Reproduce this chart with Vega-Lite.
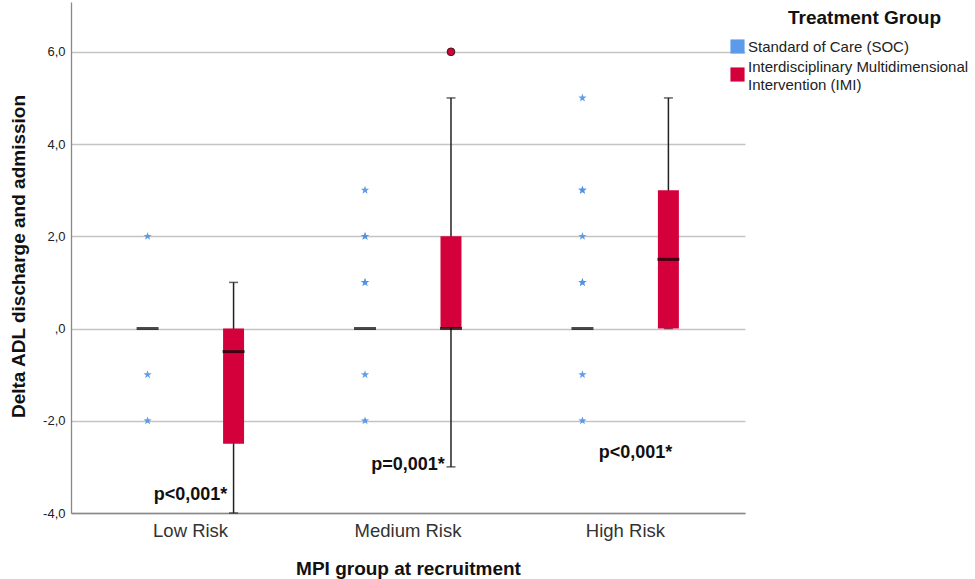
{
  "$schema": "https://vega.github.io/schema/vega-lite/v6.json",
  "width": 674,
  "height": 511,
  "autosize": {"type": "none"},
  "padding": {"left": 71, "top": 2, "right": 230, "bottom": 66},
  "background": "white",
  "config": {"view": {"stroke": null}, "font": "Liberation Sans"},
  "datasets": {
    "boxes": [
      {"group": "Low Risk", "treatment": "SOC", "lo": 0, "q1": 0, "med": 0, "q3": 0, "hi": 0},
      {"group": "Low Risk", "treatment": "IMI", "lo": -4, "q1": -2.5, "med": -0.5, "q3": 0, "hi": 1},
      {"group": "Medium Risk", "treatment": "SOC", "lo": 0, "q1": 0, "med": 0, "q3": 0, "hi": 0},
      {"group": "Medium Risk", "treatment": "IMI", "lo": -3, "q1": 0, "med": 0, "q3": 2, "hi": 5},
      {"group": "High Risk", "treatment": "SOC", "lo": 0, "q1": 0, "med": 0, "q3": 0, "hi": 0},
      {"group": "High Risk", "treatment": "IMI", "lo": 0, "q1": 0, "med": 1.5, "q3": 3, "hi": 5}
    ],
    "extremes": [
      {"group": "Low Risk", "treatment": "SOC", "value": 2},
      {"group": "Low Risk", "treatment": "SOC", "value": -1},
      {"group": "Low Risk", "treatment": "SOC", "value": -2},
      {"group": "Medium Risk", "treatment": "SOC", "value": 3},
      {"group": "Medium Risk", "treatment": "SOC", "value": 2},
      {"group": "Medium Risk", "treatment": "SOC", "value": 2},
      {"group": "Medium Risk", "treatment": "SOC", "value": 1},
      {"group": "Medium Risk", "treatment": "SOC", "value": 1},
      {"group": "Medium Risk", "treatment": "SOC", "value": -1},
      {"group": "Medium Risk", "treatment": "SOC", "value": -2},
      {"group": "High Risk", "treatment": "SOC", "value": 5},
      {"group": "High Risk", "treatment": "SOC", "value": 3},
      {"group": "High Risk", "treatment": "SOC", "value": 3},
      {"group": "High Risk", "treatment": "SOC", "value": 2},
      {"group": "High Risk", "treatment": "SOC", "value": 1},
      {"group": "High Risk", "treatment": "SOC", "value": 1},
      {"group": "High Risk", "treatment": "SOC", "value": -1},
      {"group": "High Risk", "treatment": "SOC", "value": -2}
    ],
    "outliers": [
      {"group": "Medium Risk", "treatment": "IMI", "value": 6}
    ],
    "pvals": [
      {"group": "Low Risk", "label": "p<0,001*", "y": -3.62},
      {"group": "Medium Risk", "label": "p=0,001*", "y": -2.97}
    ],
    "pvals2": [
      {"group": "High Risk", "label": "p<0,001*", "y": -2.69}
    ]
  },
  "encoding": {
    "x": {
      "field": "group",
      "type": "nominal",
      "sort": ["Low Risk", "Medium Risk", "High Risk"],
      "scale": {"domain": ["Low Risk", "Medium Risk", "High Risk"], "paddingInner": 0, "paddingOuter": 0.05},
      "axis": {
        "title": "MPI group at recruitment",
        "titleFontSize": 19,
        "titleFontWeight": "bold",
        "titleColor": "#111",
        "titleY": 55,
        "titleBaseline": "middle",
        "labelFontSize": 18.5,
        "labelColor": "#333",
        "labelAngle": 0,
        "ticks": false,
        "labelPadding": 8,
        "domainColor": "#888",
        "domainWidth": 1.3,
        "grid": false
      }
    }
  },
  "layer": [
    {
      "data": {"name": "boxes"},
      "mark": {"type": "rule", "color": "#222", "strokeWidth": 1.5},
      "encoding": {
        "xOffset": {"field": "treatment", "type": "nominal", "scale": {"domain": ["SOC", "IMI"], "paddingInner": 0.756, "paddingOuter": 0.6425}},
        "y": {
          "field": "lo",
          "type": "quantitative",
          "title": "Delta ADL discharge and admission",
          "scale": {"domain": [-4, 7.08], "nice": false, "zero": false},
          "axis": {
            "values": [-4, -2, 0, 2, 4, 6],
            "labelExpr": "datum.value == 0 ? ',0' : replace(replace(format(datum.value, '.1f'), '.', ','), '\u2212', '-')",
            "grid": true,
            "gridColor": "#c4c4c4",
            "gridWidth": 1.3,
            "ticks": false,
            "domainColor": "#888",
            "domainWidth": 1.3,
            "labelFontSize": 13,
            "labelColor": "#222",
            "labelPadding": 6,
            "titleFontSize": 19,
            "titleFontWeight": "bold",
            "titleColor": "#111",
            "titleX": -53,
            "titleY": 254,
            "titleAngle": -90,
            "titleBaseline": "middle",
            "titleAlign": "center"
          }
        },
        "y2": {"field": "hi"}
      }
    },
    {
      "data": {"name": "boxes"},
      "transform": [{"filter": "datum.treatment == 'IMI'"}],
      "mark": {"type": "tick", "color": "#222", "size": 9, "thickness": 1.5},
      "encoding": {
        "xOffset": {"field": "treatment", "type": "nominal"},
        "y": {"field": "lo", "type": "quantitative", "title": "Delta ADL discharge and admission"}
      }
    },
    {
      "data": {"name": "boxes"},
      "transform": [{"filter": "datum.treatment == 'IMI'"}],
      "mark": {"type": "tick", "color": "#222", "size": 9, "thickness": 1.5},
      "encoding": {
        "xOffset": {"field": "treatment", "type": "nominal"},
        "y": {"field": "hi", "type": "quantitative", "title": "Delta ADL discharge and admission"}
      }
    },
    {
      "data": {"name": "boxes"},
      "mark": {"type": "bar", "opacity": 1},
      "encoding": {
        "xOffset": {"field": "treatment", "type": "nominal"},
        "y": {"field": "q1", "type": "quantitative", "title": "Delta ADL discharge and admission"},
        "y2": {"field": "q3"},
        "color": {
          "field": "treatment",
          "type": "nominal",
          "scale": {"domain": ["SOC", "IMI"], "range": ["#5b9bea", "#d4003b"]},
          "legend": {
            "orient": "none",
            "legendX": 659,
            "legendY": 7,
            "title": "Treatment Group",
            "titleFontSize": 19,
            "titleFontWeight": "bold",
            "titleColor": "#111",
            "titleAnchor": "start",
            "titlePadding": 11,
            "labelExpr": "datum.value == 'SOC' ? 'Standard of Care (SOC)' : ['Interdisciplinary Multidimensional', 'Intervention (IMI)']",
            "labelFontSize": 15,
            "labelColor": "#222",
            "labelLimit": 400,
            "symbolType": "square",
            "symbolSize": 200,
            "symbolStrokeWidth": 0,
            "symbolOpacity": 1,
            "labelOffset": 3,
            "rowPadding": 4,
            "encode": {
              "title": {"update": {"dx": {"value": 58}}},
              "labels": {"update": {"dy": {"signal": "datum.value === 'IMI' ? -8 : 0"}, "lineHeight": {"value": 18}}}
            }
          }
        }
      }
    },
    {
      "data": {"name": "boxes"},
      "mark": {"type": "tick", "color": "#000", "size": 22, "thickness": 3},
      "encoding": {
        "xOffset": {"field": "treatment", "type": "nominal"},
        "y": {"field": "med", "type": "quantitative", "title": "Delta ADL discharge and admission"}
      }
    },
    {
      "data": {"name": "extremes"},
      "mark": {
        "type": "point",
        "filled": true,
        "color": "#4f92e6",
        "opacity": 0.9,
        "size": 75,
        "shape": "M0,-1L0.235,-0.324L0.951,-0.309L0.38,0.124L0.588,0.809L0,0.4L-0.588,0.809L-0.38,0.124L-0.951,-0.309L-0.235,-0.324Z"
      },
      "encoding": {
        "xOffset": {"field": "treatment", "type": "nominal"},
        "y": {"field": "value", "type": "quantitative", "title": "Delta ADL discharge and admission"}
      }
    },
    {
      "data": {"name": "outliers"},
      "mark": {"type": "point", "filled": true, "fill": "#d4003b", "stroke": "#3a1a1a", "strokeWidth": 1, "opacity": 1, "size": 60, "shape": "circle"},
      "encoding": {
        "xOffset": {"field": "treatment", "type": "nominal"},
        "y": {"field": "value", "type": "quantitative", "title": "Delta ADL discharge and admission"}
      }
    },
    {
      "data": {"name": "pvals"},
      "mark": {"type": "text", "fontSize": 18, "fontWeight": "bold", "color": "#111", "baseline": "middle", "align": "center"},
      "encoding": {
        "y": {"field": "y", "type": "quantitative", "title": "Delta ADL discharge and admission"},
        "text": {"field": "label"}
      }
    },
    {
      "data": {"name": "pvals2"},
      "mark": {"type": "text", "fontSize": 18, "fontWeight": "bold", "color": "#111", "baseline": "middle", "align": "center", "dx": 10},
      "encoding": {
        "y": {"field": "y", "type": "quantitative", "title": "Delta ADL discharge and admission"},
        "text": {"field": "label"}
      }
    }
  ]
}
